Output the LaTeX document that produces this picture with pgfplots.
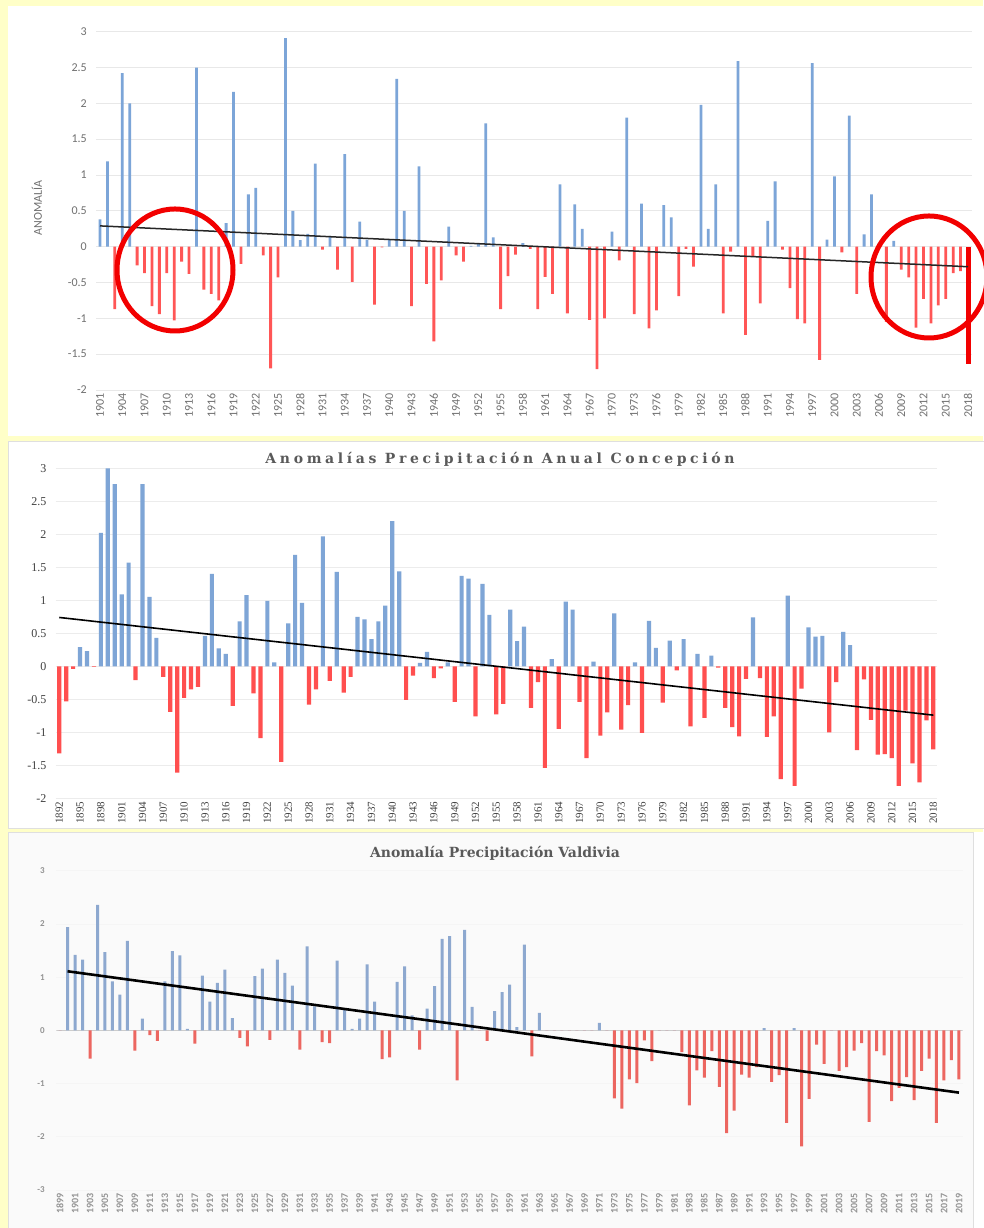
\documentclass[border=0pt]{standalone}
\usepackage{fontspec}
\setmainfont{Carlito}
\newfontfamily\midfont{Liberation Serif}
\newfontfamily\titlefont[LetterSpace=26]{DejaVu Serif}
\newfontfamily\bottitlefont{DejaVu Serif}
\usepackage{pgfplots}
\usepackage{pgfplotstable}
\pgfplotsset{compat=1.18}
\definecolor{bgyel}{HTML}{FFFFC8}
\definecolor{tblue}{HTML}{7CA5D8}
\definecolor{tred}{HTML}{FF5656}
\definecolor{mblue}{HTML}{7EA5D6}
\definecolor{mred}{HTML}{FF4F4F}
\definecolor{bblue}{HTML}{8DA8CF}
\definecolor{bred}{HTML}{EC6660}
\definecolor{labgray}{HTML}{707070}
\definecolor{titlegray}{HTML}{5A5A5A}

\pgfplotstableread{
year val
1901 0.38
1902 1.19
1903 -0.87
1904 2.42
1905 2.00
1906 -0.26
1907 -0.37
1908 -0.83
1909 -0.94
1910 -0.37
1911 -1.03
1912 -0.21
1913 -0.38
1914 2.50
1915 -0.60
1916 -0.66
1917 -0.75
1918 0.33
1919 2.16
1920 -0.24
1921 0.73
1922 0.82
1923 -0.12
1924 -1.70
1925 -0.43
1926 2.91
1927 0.50
1928 0.09
1929 0.18
1930 1.16
1931 -0.04
1932 0.15
1933 -0.32
1934 1.29
1935 -0.49
1936 0.35
1937 0.10
1938 -0.81
1939 -0.01
1940 0.10
1941 2.34
1942 0.50
1943 -0.83
1944 1.12
1945 -0.52
1946 -1.32
1947 -0.47
1948 0.28
1949 -0.12
1950 -0.21
1951 0.01
1952 0.04
1953 1.72
1954 0.13
1955 -0.87
1956 -0.41
1957 -0.11
1958 0.05
1959 -0.03
1960 -0.87
1961 -0.42
1962 -0.66
1963 0.87
1964 -0.93
1965 0.59
1966 0.25
1967 -1.02
1968 -1.71
1969 -1.00
1970 0.21
1971 -0.19
1972 1.80
1973 -0.94
1974 0.60
1975 -1.14
1976 -0.89
1977 0.58
1978 0.41
1979 -0.69
1980 -0.03
1981 -0.28
1982 1.98
1983 0.25
1984 0.87
1985 -0.93
1986 -0.07
1987 2.59
1988 -1.23
1989 -0.13
1990 -0.79
1991 0.36
1992 0.91
1993 -0.04
1994 -0.58
1995 -1.01
1996 -1.07
1997 2.56
1998 -1.58
1999 0.10
2000 0.98
2001 -0.08
2002 1.83
2003 -0.66
2004 0.17
2005 0.73
2006 0.05
2007 -1.05
2008 0.08
2009 -0.32
2010 -0.43
2011 -1.13
2012 -0.73
2013 -1.07
2014 -0.82
2015 -0.73
2016 -0.37
2017 -0.34
}\topdata

\pgfplotstableread{
year val
1892 -1.32
1893 -0.53
1894 -0.04
1895 0.29
1896 0.23
1897 -0.01
1898 2.02
1899 3.00
1900 2.76
1901 1.09
1902 1.57
1903 -0.21
1904 2.76
1905 1.05
1906 0.43
1907 -0.16
1908 -0.69
1909 -1.61
1910 -0.48
1911 -0.35
1912 -0.31
1913 0.46
1914 1.40
1915 0.27
1916 0.19
1917 -0.60
1918 0.68
1919 1.08
1920 -0.41
1921 -1.09
1922 0.99
1923 0.06
1924 -1.45
1925 0.65
1926 1.69
1927 0.96
1928 -0.58
1929 -0.35
1930 1.97
1931 -0.22
1932 1.43
1933 -0.40
1934 -0.16
1935 0.75
1936 0.71
1937 0.41
1938 0.68
1939 0.92
1940 2.20
1941 1.44
1942 -0.51
1943 -0.14
1944 0.05
1945 0.22
1946 -0.18
1947 -0.03
1948 0.06
1949 -0.54
1950 1.37
1951 1.33
1952 -0.76
1953 1.25
1954 0.78
1955 -0.73
1956 -0.57
1957 0.86
1958 0.38
1959 0.60
1960 -0.63
1961 -0.24
1962 -1.54
1963 0.11
1964 -0.95
1965 0.98
1966 0.86
1967 -0.54
1968 -1.39
1969 0.07
1970 -1.05
1971 -0.70
1972 0.80
1973 -0.96
1974 -0.59
1975 0.06
1976 -1.01
1977 0.69
1978 0.28
1979 -0.55
1980 0.39
1981 -0.06
1982 0.41
1983 -0.91
1984 0.19
1985 -0.78
1986 0.16
1987 -0.02
1988 -0.63
1989 -0.92
1990 -1.06
1991 -0.19
1992 0.74
1993 -0.18
1994 -1.07
1995 -0.76
1996 -1.71
1997 1.07
1998 -1.81
1999 -0.34
2000 0.59
2001 0.45
2002 0.46
2003 -1.00
2004 -0.24
2005 0.52
2006 0.32
2007 -1.27
2008 -0.20
2009 -0.81
2010 -1.34
2011 -1.33
2012 -1.39
2013 -1.81
2014 -0.67
2015 -1.47
2016 -1.76
2017 -0.82
2018 -1.26
}\middata

\pgfplotstableread{
year val
1899 0
1900 1.94
1901 1.42
1902 1.33
1903 -0.53
1904 2.36
1905 1.47
1906 0.92
1907 0.67
1908 1.68
1909 -0.38
1910 0.22
1911 -0.09
1912 -0.20
1913 0.92
1914 1.49
1915 1.41
1916 0.03
1917 -0.25
1918 1.03
1919 0.54
1920 0.89
1921 1.14
1922 0.23
1923 -0.14
1924 -0.30
1925 1.02
1926 1.16
1927 -0.18
1928 1.33
1929 1.08
1930 0.84
1931 -0.36
1932 1.58
1933 0.45
1934 -0.22
1935 -0.24
1936 1.31
1937 0.38
1938 0.03
1939 0.22
1940 1.24
1941 0.54
1942 -0.54
1943 -0.51
1944 0.91
1945 1.20
1946 0.28
1947 -0.36
1948 0.41
1949 0.83
1950 1.72
1951 1.77
1952 -0.94
1953 1.89
1954 0.44
1955 0
1956 -0.20
1957 0.36
1958 0.72
1959 0.86
1960 0.06
1961 1.61
1962 -0.49
1963 0.33
1964 0
1965 0
1966 0
1967 0
1968 0
1969 0
1970 0
1971 0.14
1972 0
1973 -1.28
1974 -1.47
1975 -0.92
1976 -0.99
1977 -0.19
1978 -0.58
1979 0
1980 0
1981 0
1982 -0.41
1983 -1.41
1984 -0.75
1985 -0.89
1986 -0.39
1987 -1.06
1988 -1.93
1989 -1.51
1990 -0.83
1991 -0.89
1992 -0.69
1993 0.04
1994 -0.97
1995 -0.84
1996 -1.74
1997 0.04
1998 -2.18
1999 -1.29
2000 -0.27
2001 -0.63
2002 0
2003 -0.76
2004 -0.69
2005 -0.38
2006 -0.24
2007 -1.72
2008 -0.39
2009 -0.47
2010 -1.33
2011 -1.08
2012 -0.88
2013 -1.31
2014 -0.76
2015 -0.53
2016 -1.74
2017 -0.94
2018 -0.56
2019 -0.92
}\botdata

\pgfplotsset{
  panel/.style={
    scale only axis, anchor=south west,
    axis line style={draw=none}, major tick style={draw=none},
    ymajorgrids,
    xticklabel style={rotate=90, anchor=east, /pgf/number format/fixed, /pgf/number format/precision=0, /pgf/number format/1000 sep={}, /pgf/number format/assume math mode=true},
    yticklabel style={/pgf/number format/assume math mode=true},
  }
}

\begin{document}
\begin{tikzpicture}
\useasboundingbox (0pt,0pt) rectangle (983pt,1228pt);
\begin{scope}[x=1pt,y=1pt]
\fill[bgyel] (0,0) rectangle (983,1228);
\fill[white] (8,792) rectangle (990,1222);
\filldraw[fill=white, draw=gray!25, line width=0.8pt] (8,400) rectangle (990,787);
\filldraw[fill={rgb,255:red,250;green,250;blue,250}, draw=gray!25, line width=0.8pt] (8,-5) rectangle (973,396);
\fill[white] (974,-5) rectangle (990,396);
\end{scope}

% ---------- TOP ----------
\begin{axis}[panel, at={(96.3pt,838pt)}, width=875.4pt, height=358.3pt,
  xmin=1900.5, xmax=2018.5, ymin=-2, ymax=3,
  ytick={-2,-1.5,-1,-0.5,0,0.5,1,1.5,2,2.5,3},
  xtick={1901,1904,...,2018},
  grid style={draw=gray!18, line width=0.8pt},
  xticklabel style={font=\fontsize{12}{12}\selectfont, text=labgray},
  yticklabel style={font=\fontsize{12}{12}\selectfont, text=labgray, xshift=-6pt},
]
\addplot[ybar, bar width=2.8pt, bar shift=0pt, fill=tblue, draw=none, restrict y to domain=0:5] table[x=year,y=val]{\topdata};
\addplot[ybar, bar width=2.8pt, bar shift=0pt, fill=tred, draw=none, restrict y to domain=-5:0] table[x=year,y=val]{\topdata};
\addplot[ybar, bar width=5pt, bar shift=0pt, fill=red!95!black, draw=none] coordinates {(2018,-1.64)};
\addplot[black!85, line width=1.5pt] coordinates {(1901,0.29) (2018,-0.28)};
\end{axis}

% ---------- MIDDLE ----------
\begin{axis}[panel, at={(55.8pt,429.7pt)}, width=881pt, height=330pt,
  xmin=1891.5, xmax=2018.5, ymin=-2, ymax=3,
  ytick={-2,-1.5,-1,-0.5,0,0.5,1,1.5,2,2.5,3},
  xtick={1892,1895,...,2018},
  grid style={draw=gray!15, line width=0.8pt},
  xticklabel style={font=\midfont\fontsize{11}{11}\selectfont, text=black!75},
  yticklabel style={font=\midfont\fontsize{12}{12}\selectfont, text=black!75, xshift=-6pt},
]
\addplot[ybar, bar width=4.2pt, bar shift=0pt, fill=mblue, draw=none, restrict y to domain=0:5] table[x=year,y=val]{\middata};
\addplot[ybar, bar width=4.2pt, bar shift=0pt, fill=mred, draw=none, restrict y to domain=-5:0] table[x=year,y=val]{\middata};
\addplot[black, line width=1.6pt] coordinates {(1892,0.74) (2018,-0.74)};
\end{axis}

% ---------- BOTTOM ----------
\begin{axis}[panel, at={(56.3pt,38pt)}, width=906.4pt, height=319.3pt,
  xmin=1898.5, xmax=2019.5, ymin=-3, ymax=3,
  ytick={-3,-2,-1,0,1,2,3},
  xtick={1899,1901,...,2019},
  grid style={draw=gray!8, line width=0.8pt},
  xticklabel style={font=\bfseries\fontsize{10}{10}\selectfont, text=gray!85},
  yticklabel style={font=\bfseries\fontsize{9}{9}\selectfont, text=gray!85, xshift=-8pt},
]
\addplot[gray!40, line width=0.7pt, forget plot] coordinates {(1898.5,0) (2019.5,0)};
\addplot[ybar, bar width=3pt, bar shift=0pt, fill=bblue, draw=none, restrict y to domain=0:5] table[x=year,y=val]{\botdata};
\addplot[ybar, bar width=3pt, bar shift=0pt, fill=bred, draw=none, restrict y to domain=-5:0] table[x=year,y=val]{\botdata};
\addplot[black, line width=2.6pt] coordinates {(1900,1.11) (2019,-1.17)};
\end{axis}

\begin{scope}[x=1pt,y=1pt]
\node[rotate=90, font=\fontsize{12}{12}\selectfont, text=labgray] at (37,1020) {ANOMALÍA};
\draw[red!95!black, line width=5pt] (175,958) ellipse [x radius=58, y radius=61];
\draw[red!95!black, line width=5pt] (929,951) ellipse [x radius=58, y radius=61];
\node[font=\titlefont\bfseries\fontsize{14}{14}\selectfont, text=titlegray] at (500,769) {Anomalías Precipitación Anual Concepción};
\node[font=\bottitlefont\bfseries\fontsize{14}{14}\selectfont, text=titlegray] at (495,375) {Anomalía Precipitación Valdivia};
\end{scope}
\end{tikzpicture}
\end{document}
